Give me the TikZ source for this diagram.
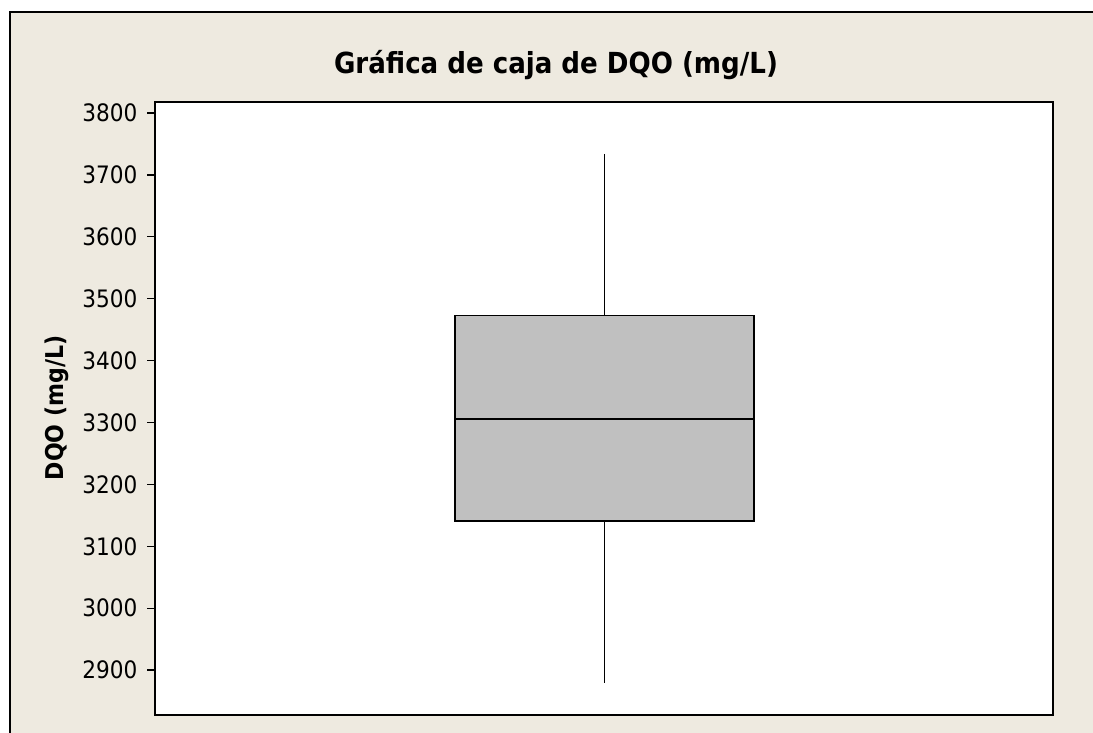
\documentclass[tikz,border=0pt]{standalone}
\usepackage{fontspec}
\setmainfont{DejaVu Sans Condensed}
\usetikzlibrary{positioning}

\definecolor{paper}{HTML}{EEEAE0}
\definecolor{boxgray}{HTML}{C0C0C0}

\begin{document}
\begin{tikzpicture}
[
x=1pt, y=-1pt,
frame-a/.style={draw=black, line width=1.5pt},
tick-a/.style={black, line width=1.3pt},
label-a/.style={black, font=\fontsize{24}{24}\selectfont, anchor=east, inner sep=0pt},
title-a/.style={black, font=\bfseries\fontsize{29}{29}\selectfont, inner sep=0pt},
box-a/.style={draw=black, fill=boxgray, line width=1.5pt, inner sep=0pt,
              minimum width=299pt, minimum height=205.3pt},
]
\useasboundingbox (0,0) rectangle (1093,733);
% paper and outer frame
\fill[paper] (10,12) rectangle (1093,733);
\draw[frame-a] (10,733) -- (10,12) -- (1093,12);
% plot area
\node (plot) [frame-a, fill=white, inner sep=0pt, minimum width=898pt,
      minimum height=613pt] at (604,408.5) {};
\node (title) [title-a, anchor=base] at (556,74) {Gráfica de caja de DQO (mg/L)};
\node (ylab) [title-a, font=\bfseries\fontsize{24.5}{24.5}\selectfont, rotate=90]
      at (57,408) {DQO (mg/L)};
% axis ticks
\foreach \v in {2900,3000,...,3800}
{
  \coordinate (t\v) at (155,{113+(3800-\v)*0.619});
  \draw [tick-a] (t\v) -- ++(-8,0) node [label-a, left=9pt] {\v};
}
% box and whiskers
\node (box) [box-a] at (604.5,418.3) {};
\coordinate (wtop) at (604.5,154);
\coordinate (wbot) at (604.5,683);
\coordinate (med) at (604.5,419);
\draw [line width=1.3pt] (wtop) -- (box.north);
\draw [line width=1.3pt] (box.south) -- (wbot);
\draw [line width=1.5pt] (box.west |- med) -- (box.east |- med);
\end{tikzpicture}
\end{document}
